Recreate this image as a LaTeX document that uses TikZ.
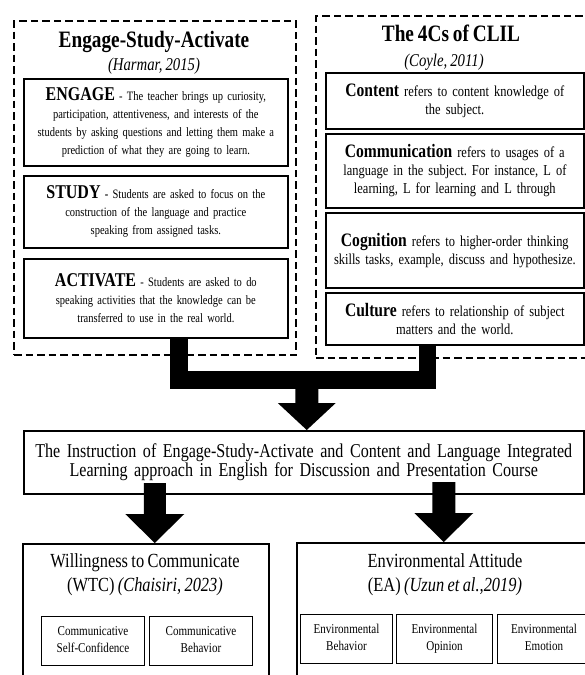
\documentclass[tikz,border=0pt]{standalone}
\usepackage{fontspec}
\setmainfont[FakeStretch=0.82,WordSpace=0.82]{Liberation Serif}
\frenchspacing
\usetikzlibrary{calc}
\usetikzlibrary{positioning}

% bold lead-in words of the item boxes
\newcommand{\esahead}[1]{{\fontsize{19.5}{18}\selectfont\bfseries #1}}
\newcommand{\clilhead}[1]{{\fontsize{19}{18}\selectfont\bfseries #1}}

% fat arrow pointing down: #1 tip, #2 half stem width, #3 half head width, #4 head length, #5 stem length
\newcommand{\fatarrow}[5]{%
  \fill (#1) -- ++(-#3,-#4) -- ++(#3-#2,0) -- ++(0,-#5) -- ++(2*#2,0) -- ++(0,#5) -- ++(#3-#2,0) -- cycle;}

\begin{document}
\begin{tikzpicture}[x=1pt,y=-1pt,
    dashbox/.style={draw,line width=2.2pt,dash pattern=on 7.5pt off 4pt,anchor=north west,inner sep=0pt},
    itembox/.style={draw,line width=1.7pt,anchor=north west,inner sep=0pt,align=center},
    outerbox/.style={draw,line width=1.5pt,anchor=north west,inner sep=0pt,align=center},
    subbox/.style={draw,line width=1pt,anchor=north west,inner sep=0pt,align=center,font=\fontsize{13.5}{17}\selectfont},
    lbody/.style={font=\fontsize{12.8}{18}\selectfont},
    rbody/.style={font=\fontsize{15.2}{18}\selectfont},
  ]
    \useasboundingbox (0,0) rectangle (585,675);

    % dashed frames
    \node[dashbox,minimum width=282pt,minimum height=334pt] (esa) at (13,20) {};
    \node[dashbox,minimum width=290pt,minimum height=342pt] (clil) at (315,15) {};

    % Engage-Study-Activate
    \node[font=\fontsize{23.5}{24}\selectfont\bfseries] (esatitle) at (154,42) {Engage-Study-Activate};
    \node[font=\fontsize{18}{20}\selectfont\itshape] (harmar) at (154,66) {(Harmar, 2015)};
    \node[itembox,lbody,minimum width=264pt,minimum height=87pt,text width=260pt] (engage) at (23,78)
        {\esahead{ENGAGE} - The teacher brings up curiosity,\\ participation, attentiveness, and interests of the\\
         students by asking questions and letting them make a\\ prediction of what they are going to learn.};
    \node[itembox,lbody,minimum width=264pt,minimum height=72pt,text width=260pt] (study) at (23,175)
        {\esahead{STUDY} \textbf{-} Students are asked to focus on the\\ construction of the language and practice\\
         speaking from assigned tasks.};
    \node[itembox,lbody,minimum width=264pt,minimum height=79pt,text width=260pt] (activate) at (23,258)
        {\esahead{ACTIVATE} - Students are asked to do\\ speaking activities that the knowledge can be\\
         transferred to use in the real world.};

    % 4Cs of CLIL
    \node[font=\fontsize{23.5}{24}\selectfont\bfseries] (cliltitle) at (451,33) {The 4Cs of CLIL};
    \node[font=\fontsize{18}{20}\selectfont\itshape] (coyle) at (444,62) {(Coyle, 2011)};
    \node[itembox,rbody,minimum width=258pt,minimum height=56pt,text width=256pt] (content) at (325,72)
        {\clilhead{Content} refers to content knowledge of\\ the subject.};
    \node[itembox,rbody,minimum width=258pt,minimum height=74pt,text width=256pt] (communication) at (325,133)
        {\clilhead{Communication} refers to usages of a\\ language in the subject. For instance, L of\\
         learning, L for learning and L through};
    \node[itembox,rbody,minimum width=258pt,minimum height=75pt,text width=256pt] (cognition) at (325,212)
        {\clilhead{Cognition} refers to higher-order thinking\\ skills tasks, example, discuss and hypothesize.};
    \node[itembox,rbody,minimum width=258pt,minimum height=52pt,text width=256pt] (culture) at (325,292)
        {\clilhead{Culture} refers to relationship of subject\\ matters and the world.};

    % instruction
    \node[outerbox,font=\fontsize{19.6}{19.5}\selectfont,minimum width=560pt,minimum height=63pt,text width=556pt] (instr) at (23,430)
        {The Instruction of Engage-Study-Activate and Content and Language Integrated\\
         Learning approach in English for Discussion and Presentation Course};

    % outcomes
    \node[outerbox,minimum width=246pt,minimum height=150pt] (wtc) at (22,543) {};
    \node[outerbox,minimum width=299pt,minimum height=150pt] (ea) at (296,542) {};
    \node[font=\fontsize{20}{24}\selectfont,align=center] (wtctitle) at (145,575)
        {Willingness to Communicate\\ (WTC) \textit{(Chaisiri, 2023)}};
    \node[font=\fontsize{20}{24}\selectfont,align=center] (eatitle) at (445,575)
        {Environmental Attitude\\ (EA) \textit{(Uzun et al.,2019)}};
    \node[subbox,minimum width=103pt,minimum height=49pt] (selfconf) at (41,616) {\strut Communicative\\ Self-Confidence\strut};
    \node[subbox,minimum width=103pt,minimum height=49pt] (combeh) at (149,616) {\strut Communicative\\ Behavior\strut};
    \node[subbox,minimum width=92pt,minimum height=49pt] (envbeh) at (300,614) {\strut Environmental\\ Behavior\strut};
    \node[subbox,minimum width=96pt,minimum height=49pt] (envop) at (396,614) {\strut Environmental\\ Opinion\strut};
    \node[subbox,minimum width=93pt,minimum height=49pt] (envem) at (497,614) {\strut Environmental\\ Emotion\strut};

    % connectors
    \draw[line width=17.5pt] ($(activate.south)+(23,0)$) -- ++(0,41.5) -| ($(culture.south)+(-27.5,0)$);
    \coordinate (tipa) at ($(instr.north)+(3,0)$);
    \fatarrow{tipa}{11.5}{29}{27}{17}
    \coordinate (tipb) at ($(wtc.north)+(9,0)$);
    \fatarrow{tipb}{11}{29.5}{29}{31}
    \coordinate (tipc) at ($(ea.north)+(-2.5,0)$);
    \fatarrow{tipc}{11.5}{29.5}{29}{31}
\end{tikzpicture}
\end{document}
